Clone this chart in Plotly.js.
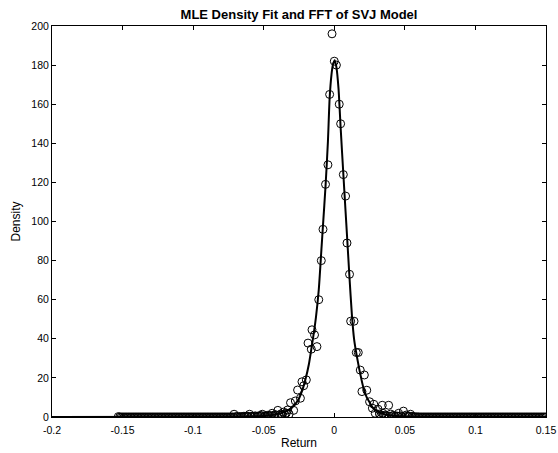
<!DOCTYPE html>
<html>
<head>
<meta charset="utf-8">
<script src="https://cdn.plot.ly/plotly-3.0.1.min.js"></script>
<style>html,body{margin:0;padding:0;background:#fff;}#chart{width:558px;height:453px;}</style>
</head>
<body>
<div id="chart"></div>
<script>
// Observed (FFT) density points — left tail
const leftTailReturn = [
  -0.153,-0.152,-0.151,-0.150,-0.149,-0.148,-0.147,-0.146,-0.145,-0.144,
  -0.143,-0.142,-0.141,-0.140,-0.139,-0.138,-0.137,-0.136,-0.135,-0.134,
  -0.133,-0.132,-0.131,-0.130,-0.129,-0.128,-0.127,-0.126,-0.125,-0.124,
  -0.123,-0.122,-0.121,-0.120,-0.119,-0.118,-0.117,-0.116,-0.115,-0.114,
  -0.113,-0.112,-0.111,-0.110,-0.109,-0.108,-0.107,-0.106,-0.105,-0.104,
  -0.103,-0.102,-0.101,-0.100,-0.099,-0.098,-0.097,-0.096,-0.095,-0.094,
  -0.093,-0.092,-0.091,-0.090,-0.089,-0.088,-0.087,-0.086,-0.085,-0.084,
  -0.083,-0.082,-0.081,-0.080,-0.079,-0.078,-0.077,-0.076,-0.075,-0.074,
  -0.073,-0.072,
  -0.071,-0.070,-0.069,-0.068,-0.067,-0.066,-0.065,-0.064,-0.063,-0.062,
  -0.061,-0.060,-0.059,-0.058,-0.057,-0.056,-0.055,-0.054,-0.053,-0.052,
  -0.051,-0.050,-0.049,-0.048,-0.047,-0.046,-0.045,-0.044,-0.043,-0.042,
  -0.041,-0.040,-0.039,-0.038,-0.037,-0.036,-0.035,-0.034
];
const leftTailDensity = [
  0.2,0,0,0,0,0,0,0,0,0,
  0,0,0,0,0,0,0,0,0,0,
  0,0,0,0,0,0,0,0,0,0,
  0,0,0,0,0,0,0,0,0,0,
  0,0,0,0,0,0,0,0,0,0,
  0,0,0,0,0,0,0,0,0,0,
  0,0,0,0,0,0,0,0,0,0,
  0,0,0,0,0,0,0,0,0,0,
  0,0,
  1.4,0.2,0.1,0.3,0,0.2,0.1,0.4,0.2,0.5,
  0.3,1.4,0.2,0.4,0.3,0.6,0.2,0.5,0.4,0.8,
  1.4,0.3,0.6,0.5,0.9,0.7,0.6,1.9,0.8,1.2,
  0.9,3.4,1.0,1.5,1.2,2.5,1.3,2.0
];
// Observed density points — central region
const centerReturn = [
  -0.033,-0.032,-0.031,-0.0288,-0.0276,-0.026,-0.024,-0.0229,-0.0217,-0.0198,
  -0.0186,-0.0163,-0.0158,-0.014,-0.0123,-0.011,-0.0092,-0.008,-0.0062,-0.0045,
  -0.0033,-0.0016,0.0,0.0015,0.0035,0.0045,0.0064,0.008,0.009,0.0108,
  0.0116,0.014,0.0156,0.017,0.0184,0.0196,0.0213,0.023,0.025,0.027,
  0.028,0.029,0.031,0.032,0.033,0.034,0.0345,0.035,0.036,0.037,
  0.0385,0.039,0.040,0.041,0.042,0.043,0.044,0.045,0.0456,0.047,
  0.048,0.049,0.050,0.051,0.052,0.053,0.054
];
const centerDensity = [
  3.6,1.5,7.3,3.4,8.2,13.8,9.6,18,16,19,
  37.8,34.7,44.6,42,36,60,80,96,119,129,
  165,196,182,180,160,150,124,113,89,73,
  49,49,33,33,24,13,21.5,13.7,7.8,4.5,
  6.5,1.9,4.0,1.5,0.8,6.0,1.9,0.5,1.0,0.7,
  6.0,0.4,1.5,0.6,0.8,0.3,0.5,0.4,1.9,0.6,
  0.2,3.0,0.5,1.0,0.3,0.4,1.4
];
// Observed density points — right tail
const rightTailReturn = [
  0.055,0.056,0.057,0.058,0.059,0.060,0.061,0.062,0.063,0.064,
  0.065,0.066,0.067,0.068,0.069,0.070,0.071,0.072,0.073,0.074,
  0.075,0.076,0.077,0.078,0.079,0.080,0.081,0.082,0.083,0.084,
  0.085,0.086,0.087,0.088,0.089,0.090,0.091,0.092,0.093,0.094,
  0.095,0.096,0.097,0.098,0.099,0.100,0.101,0.102,0.103,0.104,
  0.105,0.106,0.107,0.108,0.109,0.110,0.111,0.112,0.113,0.114,
  0.115,0.116,0.117,0.118,0.119,0.120,0.121,0.122,0.123,0.124,
  0.125,0.126,0.127,0.128,0.129,0.130,0.131,0.132,0.133,0.134,
  0.135,0.136,0.137,0.138,0.139,0.140,0.141,0.142,0.143,0.144,
  0.145,0.146,0.147,0.148,0.149,0.150
];
const rightTailDensity = [
  0.3,0.2,0.1,0,0.1,0,0,0,0,0,
  0,0,0,0,0,0,0,0,0,0,
  0,0,0,0,0,0,0,0,0,0,
  0,0,0,0,0,0,0,0,0,0,
  0,0,0,0,0,0,0,0,0,0,
  0,0,0,0,0,0,0,0,0,0,
  0,0,0,0,0,0,0,0,0,0,
  0,0,0,0,0,0,0,0,0,0,
  0,0,0,0,0,0,0,0,0,0,
  0,0,0,0,0,0
];
// MLE fitted density curve
const fitReturn = [
  -0.2,-0.07,-0.06,-0.05,-0.045,-0.04,-0.035,-0.03,-0.027,-0.025,
  -0.0225,-0.0205,-0.018,-0.016,-0.0145,-0.013,-0.011,-0.009,-0.008,-0.0062,
  -0.0045,-0.0033,-0.002,-0.001,0.0003,0.0015,0.003,0.0045,0.0066,0.008,
  0.009,0.0108,0.0125,0.014,0.016,0.019,0.021,0.023,0.025,0.027,
  0.030,0.033,0.037,0.042,0.05,0.06,0.15
];
const fitDensity = [
  0,0.1,0.25,0.5,0.9,1.5,2.6,4.8,7.2,9.5,
  14,19,27,36,43,51,65,87,98,118,
  141,163,175,180,182.5,179,168,148,122,105,
  93,71,52,40,31,20,14,10,7.5,5,
  3.2,2,1.2,0.6,0.25,0.1,0
];
const xTickVals = [-0.2,-0.15,-0.1,-0.05,0,0.05,0.1,0.15];
const xTickText = ['-0.2','-0.15','-0.1','-0.05','0','0.05','0.1','0.15'];
const yTickVals = [0,20,40,60,80,100,120,140,160,180,200];
const yTickText = ['0','20','40','60','80','100','120','140','160','180','200'];

const obsReturn = leftTailReturn.concat(centerReturn, rightTailReturn);
const obsDensity = leftTailDensity.concat(centerDensity, rightTailDensity);

const traces = [
  {
    x: fitReturn, y: fitDensity, type: 'scatter', mode: 'lines',
    line: {color: '#000', width: 2, shape: 'spline', smoothing: 0.6},
    hoverinfo: 'skip', showlegend: false
  },
  {
    x: obsReturn, y: obsDensity, type: 'scatter', mode: 'markers',
    marker: {symbol: 'circle-open', size: 8, color: '#000', line: {width: 1, color: '#000'}},
    showlegend: false
  }
];

const FONT = 'Liberation Sans, Arial, sans-serif';
const layout = {
  width: 558, height: 453,
  margin: {l: 52, r: 12, t: 26, b: 36, pad: 0},
  paper_bgcolor: '#fff', plot_bgcolor: '#fff',
  font: {family: FONT, color: '#000', size: 10.5},
  showlegend: false,
  title: {
    text: '<b>MLE Density Fit and FFT of SVJ Model</b>',
    font: {family: FONT, size: 13, color: '#000'},
    x: 0.5, xanchor: 'center', xref: 'paper',
    y: 0.969, yanchor: 'middle', yref: 'container'
  },
  xaxis: {
    range: [-0.2, 0.15], tickvals: xTickVals, ticktext: xTickText,
    ticks: 'inside', ticklen: 4, tickwidth: 1, tickcolor: '#000',
    showline: true, linecolor: '#000', linewidth: 1, mirror: 'ticks',
    showgrid: false, zeroline: false, ticklabelstandoff: 3,
    title: {text: 'Return', font: {family: FONT, size: 12, color: '#000'}, standoff: 4},
    tickfont: {family: FONT, size: 10.5, color: '#000'}
  },
  yaxis: {
    range: [0, 200], tickvals: yTickVals, ticktext: yTickText,
    ticks: 'inside', ticklen: 4, tickwidth: 1, tickcolor: '#000',
    showline: true, linecolor: '#000', linewidth: 1, mirror: 'ticks',
    showgrid: false, zeroline: false,
    title: {text: 'Density', font: {family: FONT, size: 12, color: '#000'}, standoff: 8},
    tickfont: {family: FONT, size: 10.5, color: '#000'}
  }
};

Plotly.newPlot('chart', traces, layout, {displayModeBar: false, staticPlot: true});
</script>
</body>
</html>
